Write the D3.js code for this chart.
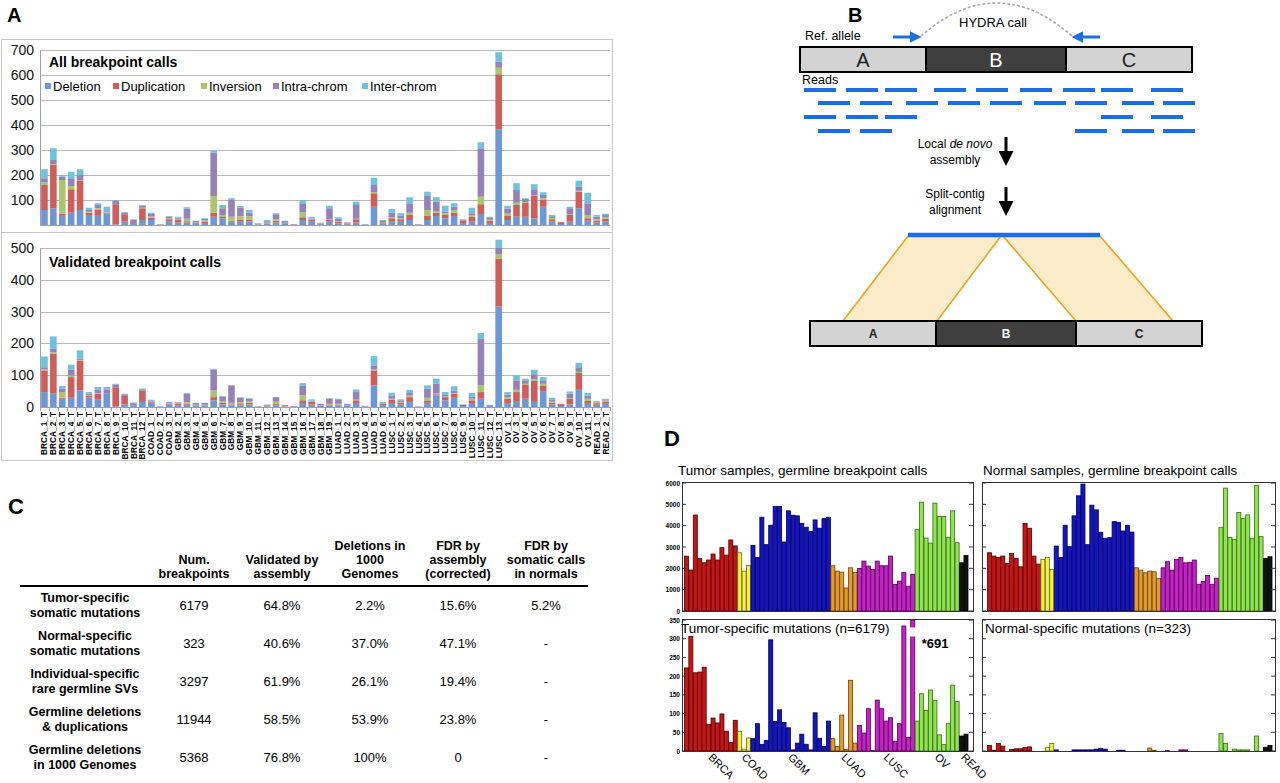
<!DOCTYPE html>
<html>
<head>
<meta charset="utf-8">
<script src="https://cdn.jsdelivr.net/npm/d3@7"></script>
<style>
  body { margin: 0; background: #fff; }
  svg { display: block; font-family: "Liberation Sans", Arial, Helvetica, sans-serif; }
</style>
</head>
<body>
<svg id="fig" width="1280" height="783"></svg>
<script>
// ---------- data ----------
const samples = ["BRCA_1_T","BRCA_2_T","BRCA_3_T","BRCA_4_T","BRCA_5_T","BRCA_6_T","BRCA_7_T","BRCA_8_T","BRCA_9_T","BRCA_10_T","BRCA_11_T","BRCA_12_T",
  "COAD_1_T","COAD_2_T","COAD_3_T",
  "GBM_2_T","GBM_3_T","GBM_4_T","GBM_5_T","GBM_6_T","GBM_7_T","GBM_8_T","GBM_9_T","GBM_10_T","GBM_11_T","GBM_12_T","GBM_13_T","GBM_14_T","GBM_15_T","GBM_16_T","GBM_17_T","GBM_18_T","GBM_19_T",
  "LUAD_1_T","LUAD_2_T","LUAD_3_T","LUAD_4_T","LUAD_5_T","LUAD_6_T",
  "LUSC_1_T","LUSC_2_T","LUSC_3_T","LUSC_4_T","LUSC_5_T","LUSC_6_T","LUSC_7_T","LUSC_8_T","LUSC_9_T","LUSC_10_T","LUSC_11_T","LUSC_12_T","LUSC_13_T",
  "OV_1_T","OV_3_T","OV_4_T","OV_5_T","OV_6_T","OV_7_T","OV_8_T","OV_9_T","OV_10_T","OV_11_T",
  "READ_1_T","READ_2_T"]

const series = ["Deletion", "Duplication", "Inversion", "Intra-chrom", "Inter-chrom"]
const seriesColors = ["#6f97d6", "#cf5e5a", "#aac56b", "#9682ba", "#6ec2dc"]

// A, all breakpoint calls
const allDeletion = [60,67,40,49,60,40,40,47,2,13,5,20, 20,1,15, 10,10,5,8,33,27,13,15,15,2,5,10,4,1,20,13,3,13, 7,3,11,1,73,7, 13,13,20,1,20,36,27,36,8,13,44,8,383, 20,33,33,27,73,15,4,13,67,17, 10,15]
const allDuplication = [100,173,5,94,118,9,20,2,81,30,3,47, 9,1,8, 10,5,3,6,16,5,4,5,5,1,2,8,3,1,11,7,2,7, 5,2,12,1,54,4, 14,10,20,1,16,13,13,13,10,20,39,10,220, 16,47,56,89,27,8,7,27,66,10, 8,10]
const allInversion = [10,3,135,13,2,4,7,2,0,0,0,2, 5,0,3, 5,10,2,4,67,8,16,15,15,1,2,5,2,0,19,3,1,2, 3,1,2,0,4,1, 4,3,9,0,24,7,7,11,0,7,30,3,26, 10,9,3,4,7,5,0,3,4,13, 5,5]
const allIntra = [17,17,13,31,20,7,13,4,15,7,13,9, 10,1,8, 5,40,6,6,173,27,67,35,15,2,6,20,7,2,37,2,3,45, 10,4,55,1,29,4, 19,12,35,1,56,37,7,13,3,7,194,7,24, 20,51,12,23,13,7,1,24,16,47, 10,10]
const allInter = [36,47,7,26,23,9,7,18,2,2,2,2, 5,0,2, 3,6,1,3,8,13,7,6,10,1,5,4,1,0,13,8,0,10, 6,1,13,1,29,4, 14,9,27,0,17,18,23,14,2,22,24,5,38, 11,27,3,20,11,5,1,6,24,42, 7,5]

// A, validated breakpoint calls
const valDeletion = [47,42,26,29,52,30,23,42,2,8,3,16, 10,1,8, 5,7,3,3,21,8,5,5,8,1,2,5,1,1,10,8,3,5, 5,3,10,1,68,6, 10,8,16,1,13,37,21,29,3,10,26,3,316, 10,19,26,16,50,8,3,8,54,10, 7,10]
const valDuplication = [68,125,3,65,94,5,19,2,60,27,2,36, 5,0,3, 6,3,2,2,10,5,3,4,5,0,1,4,1,0,11,8,2,3, 3,2,11,1,47,4, 13,6,15,1,8,3,10,13,4,11,21,2,150, 16,28,45,66,18,6,6,18,53,9, 5,7]
const valInversion = [3,5,18,5,2,2,2,0,0,0,0,0, 2,0,1, 2,5,2,2,21,5,5,6,6,1,1,8,1,0,16,2,1,2, 2,1,2,0,3,1, 3,2,5,0,8,2,2,2,0,5,21,0,15, 5,7,2,5,5,5,0,2,3,7, 2,3]
const valIntra = [7,11,10,18,5,5,10,10,9,5,7,4, 4,1,3, 2,27,6,6,66,15,55,14,7,1,3,14,3,2,31,2,4,16, 12,3,24,1,13,3, 10,5,8,0,29,31,5,8,1,7,146,1,19, 8,30,11,16,9,5,1,14,15,10, 3,4]
const valInter = [34,39,9,16,25,5,9,9,2,2,2,2, 2,0,1, 1,2,0,0,2,2,0,2,2,0,1,0,0,0,7,4,0,2, 4,1,8,1,29,2, 9,3,10,0,10,16,9,13,0,11,19,1,26, 8,15,5,14,12,5,0,7,14,8, 2,2]

const topTicks = [100, 200, 300, 400, 500, 600, 700]
const bottomTicks = [0, 100, 200, 300, 400, 500]

// B, schematic (positions in reference-genome units)
const segNames = ["A", "B", "C"]
const segEdges = [0, 126, 266, 392]
const readStarts = [
  [4, 46, 85, 134, 176, 220, 263, 301, 351],
  [18, 60, 106, 148, 190, 234, 275, 322, 363],
  [4, 46, 85, 301, 351],
  [18, 60, 275, 322, 363]]
const readLength = 32
const contigPieces = [{ c0: 0, c1: 93, g0: 33, g1: 127 }, { c0: 95, c1: 192, g0: 266, g1: 363 }]

// C, table
const colHeaders = [["Num.", "breakpoints"], ["Validated by", "assembly"], ["Deletions in", "1000", "Genomes"],
  ["FDR by", "assembly", "(corrected)"], ["FDR by", "somatic calls", "in normals"]]
const rowLabels = [["Tumor-specific", "somatic mutations"], ["Normal-specific", "somatic mutations"],
  ["Individual-specific", "rare germline SVs"], ["Germline deletions", "& duplications"], ["Germline deletions", "in 1000 Genomes"]]
const numBreakpoints = ["6179", "323", "3297", "11944", "5368"]
const validatedByAssembly = ["64.8%", "40.6%", "61.9%", "58.5%", "76.8%"]
const deletionsIn1000G = ["2.2%", "37.0%", "26.1%", "53.9%", "100%"]
const fdrAssembly = ["15.6%", "47.1%", "19.4%", "23.8%", "0"]
const fdrNormals = ["5.2%", "-", "-", "-", "-"]

// D
const cancerTypes = ["BRCA", "COAD", "GBM", "LUAD", "LUSC", "OV", "READ"]
const cancerColors = ["#c81414", "#f4f046", "#1414c4", "#e49b2e", "#c820c8", "#8ee64c", "#111111"]
const cancerStrokes = ["#4a0000", "#6a6818", "#00004e", "#6a4200", "#4e004e", "#3a6a1c", "#000000"]
const tumorGermline = [2570,1920,4500,2460,2260,2390,2670,2390,2970,2620,3330,3050, 2730,1870,2135,
  3080,2510,4395,3110,4020,4900,4900,3235,4695,4490,4460,4110,3925,3720,4270,3880,4330,4395,
  2120,1870,1820,1080,2025,1805, 1995,2340,2105,1945,2340,2120,2120,2575,1240,1400,1805,1160,1725,
  3830,5100,3420,3185,5055,4425,4425,3440,4695,3200, 2260,2605]
const normalGermline = [2730,2575,2510,2575,2230,2700,2465,2070,4110,3880,2575,2200, 2420,2510,1950,
  3045,2510,4020,3015,4460,5400,5950,3110,4960,4740,3690,3410,3440,4190,4160,3750,4020,3700,
  2025,1915,1790,1870,1840,1520, 2025,2310,1915,2420,2510,2260,2280,2390,1255,1380,1665,1255,1540,
  3925,5760,3450,3360,4615,4330,4505,3410,5890,3485, 2465,2545]
const tumorSpecific = [222,306,209,211,224,71,88,75,99,53,23,82, 52,5,35,
  33,73,18,28,297,79,110,76,62,3,21,45,18,3,102,34,12,80,
  33,12,96,4,189,21, 68,48,113,1,136,113,80,89,26,73,334,36,691,
  80,153,108,163,135,43,17,74,176,132, 40,45]
const normalSpecific = [15,2,20,13,0,4,6,6,9,11,0,0, 0,9,20,
  3,0,0,0,3,3,3,3,3,5,7,5,0,0,2,2,0,0,
  0,0,0,8,2,0, 0,1,0,0,3,3,0,0,0,0,0,0,0,
  47,20,0,5,3,3,3,0,40,0, 10,15]
const germlineTicks = [0, 1000, 2000, 3000, 4000, 5000, 6000]
const mutationTicks = [0, 50, 100, 150, 200, 250, 300, 350]

// ---------- drawing ----------
const svg = d3.select("#fig")

function letter(t, x, y, size) {
  svg.append("text").attr("x", x).attr("y", y).attr("font-size", size)
    .attr("font-weight", "bold").text(t)
}
letter("A", 7, 22, 20)
letter("B", 848, 22, 20)
letter("C", 8, 514, 22)
letter("D", 664, 446, 22)

// ===== Panel A =====
svg.append("rect").attr("x", 1.5).attr("y", 39.5).attr("width", 611).attr("height", 421)
  .attr("fill", "none").attr("stroke", "#c8c8c8")
svg.append("line").attr("x1", 1.5).attr("x2", 612.5).attr("y1", 232.5).attr("y2", 232.5).attr("stroke", "#c8c8c8")

const xA = d3.scaleBand().domain(samples).range([40, 610]).paddingInner(0.26).paddingOuter(0.13)

function rowsFrom(cols) {
  return samples.map((s, i) => {
    const r = { name: s }
    series.forEach((k, j) => r[k] = cols[j][i])
    return r
  })
}

function stackedPanel(cols, y, ticks, title, titleY) {
  const g = svg.append("g")
  const top = y.range()[1]

  g.append("g").selectAll("line").data(ticks.filter(t => t > 0)).join("line")
    .attr("x1", 40).attr("x2", 610)
    .attr("y1", d => Math.round(y(d)) + .5).attr("y2", d => Math.round(y(d)) + .5)
    .attr("stroke", "#b9b9b9")

  g.append("line").attr("x1", 40.5).attr("x2", 40.5).attr("y1", y(0)).attr("y2", top).attr("stroke", "#a0a0a0")
  g.append("line").attr("x1", 40).attr("x2", 610).attr("y1", y(0) + .5).attr("y2", y(0) + .5).attr("stroke", "#a0a0a0")

  g.append("g").selectAll("text").data(ticks).join("text")
    .attr("x", 34).attr("y", d => y(d) + 5)
    .attr("text-anchor", "end").attr("font-size", 14).attr("fill", "#111")
    .text(d => d)

  const stacked = d3.stack().keys(series)(rowsFrom(cols))
  g.append("g").selectAll("g").data(stacked).join("g")
    .attr("fill", (d, i) => seriesColors[i])
    .selectAll("rect").data(d => d).join("rect")
    .attr("x", d => xA(d.data.name)).attr("width", xA.bandwidth())
    .attr("y", d => y(d[1])).attr("height", d => Math.max(0, y(d[0]) - y(d[1])))

  g.append("text").attr("x", 49).attr("y", titleY).attr("font-size", 14).attr("font-weight", "bold")
    .text(title)
  return g
}

const yTop = d3.scaleLinear().domain([0, 700]).range([225, 50])
const yBot = d3.scaleLinear().domain([0, 500]).range([407, 248])

stackedPanel([allDeletion, allDuplication, allInversion, allIntra, allInter], yTop, topTicks, "All breakpoint calls", 67)
const gBot = stackedPanel([valDeletion, valDuplication, valInversion, valIntra, valInter], yBot, bottomTicks, "Validated breakpoint calls", 267)

// legend
const legX = [45, 113, 201, 273, 362]
const leg = svg.append("g").selectAll("g").data(series).join("g")
  .attr("transform", (d, i) => `translate(${legX[i]},86)`)
leg.append("rect").attr("x", 0).attr("y", -3).attr("width", 6).attr("height", 6).attr("fill", (d, i) => seriesColors[i])
leg.append("text").attr("x", 8).attr("y", 5).attr("font-size", 13).text(d => d)

// category ticks and labels
const stepA = xA.step()
const boundaries = samples.map(s => xA(s) - xA.paddingInner() * stepA / 2)
boundaries.push(boundaries[boundaries.length - 1] + stepA)
gBot.append("g").selectAll("line").data(boundaries).join("line")
  .attr("x1", d => Math.round(d) + .5).attr("x2", d => Math.round(d) + .5)
  .attr("y1", 407).attr("y2", 411).attr("stroke", "#a0a0a0")
gBot.append("g").selectAll("text").data(samples).join("text")
  .attr("transform", d => `translate(${xA(d) + xA.bandwidth() / 2 + 3},412) rotate(-90)`)
  .attr("text-anchor", "end").attr("font-size", 8.3).attr("font-weight", "bold")
  .text(d => d)

// ===== Panel B =====
const gB = svg.append("g")
const defs = svg.append("defs")
function marker(id, color, size) {
  defs.append("marker").attr("id", id).attr("viewBox", "0 0 10 10").attr("refX", 2).attr("refY", 5)
    .attr("markerUnits", "userSpaceOnUse").attr("markerWidth", size).attr("markerHeight", size)
    .attr("orient", "auto")
    .append("path").attr("d", "M0,0 L10,5 L0,10 Z").attr("fill", color)
}
marker("blueHead", "#1b6fe6", 12)
marker("blackHead", "#000", 15)

const gxTop = d3.scaleLinear().domain([0, 392]).range([800, 1192])
const gxBot = d3.scaleLinear().domain([0, 392]).range([810, 1202])
const segFill = ["#d3d3d3", "#3f3f3f", "#d3d3d3"]
const segText = ["#222", "#fff", "#222"]

function refBar(gx, y0, h, fs) {
  const g = gB.append("g")
  g.selectAll("rect").data(segNames).join("rect")
    .attr("x", (d, i) => gx(segEdges[i])).attr("width", (d, i) => gx(segEdges[i + 1]) - gx(segEdges[i]))
    .attr("y", y0).attr("height", h)
    .attr("fill", (d, i) => segFill[i]).attr("stroke", "#000").attr("stroke-width", 2)
  g.selectAll("text").data(segNames).join("text")
    .attr("x", (d, i) => (gx(segEdges[i]) + gx(segEdges[i + 1])) / 2)
    .attr("y", y0 + h / 2 + fs * 0.36)
    .attr("text-anchor", "middle").attr("font-size", fs)
    .attr("font-weight", fs < 15 ? "bold" : "normal")
    .attr("fill", (d, i) => segText[i]).text(d => d)
}

// dashed HYDRA arc
gB.append("path")
  .attr("d", `M${gxTop(121)},36 Q${gxTop(196.5)},-30 ${gxTop(272)},36`)
  .attr("fill", "none").attr("stroke", "#aaa").attr("stroke-width", 1.6).attr("stroke-dasharray", "3,2")
gB.append("line").attr("x1", gxTop(93)).attr("x2", gxTop(112)).attr("y1", 37).attr("y2", 37)
  .attr("stroke", "#1b6fe6").attr("stroke-width", 3).attr("marker-end", "url(#blueHead)")
gB.append("line").attr("x1", gxTop(300)).attr("x2", gxTop(281)).attr("y1", 37).attr("y2", 37)
  .attr("stroke", "#1b6fe6").attr("stroke-width", 3).attr("marker-end", "url(#blueHead)")
gB.append("text").attr("x", 993).attr("y", 27).attr("text-anchor", "middle").attr("font-size", 13).text("HYDRA call")
gB.append("text").attr("x", 805).attr("y", 40).attr("font-size", 12.5).text("Ref. allele")
refBar(gxTop, 47, 25, 20)

gB.append("text").attr("x", 802).attr("y", 84).attr("font-size", 12.5).text("Reads")
const readRowY = [90, 103, 117, 131]
readStarts.forEach((row, r) => {
  gB.append("g").selectAll("rect").data(row).join("rect")
    .attr("x", d => gxTop(d)).attr("width", gxTop(readLength) - gxTop(0))
    .attr("y", readRowY[r] - 2).attr("height", 4).attr("fill", "#1b6fe6")
})

const t1 = gB.append("text").attr("x", 955).attr("y", 148).attr("text-anchor", "middle").attr("font-size", 12)
t1.append("tspan").text("Local ")
t1.append("tspan").attr("font-style", "italic").text("de novo")
gB.append("text").attr("x", 955).attr("y", 164).attr("text-anchor", "middle").attr("font-size", 12).text("assembly")
gB.append("text").attr("x", 955).attr("y", 198).attr("text-anchor", "middle").attr("font-size", 12).text("Split-contig")
gB.append("text").attr("x", 955).attr("y", 214).attr("text-anchor", "middle").attr("font-size", 12).text("alignment")
gB.append("g").selectAll("line").data([137, 187]).join("line")
  .attr("x1", 1006).attr("x2", 1006).attr("y1", d => d).attr("y2", d => d + 17)
  .attr("stroke", "#000").attr("stroke-width", 3).attr("marker-end", "url(#blackHead)")

const cx = d3.scaleLinear().domain([0, 192]).range([908, 1100])
gB.append("g").selectAll("polygon").data(contigPieces).join("polygon")
  .attr("points", d => [[cx(d.c0), 236], [cx(d.c1), 236], [gxBot(d.g1), 321], [gxBot(d.g0), 321]].join(" "))
  .attr("fill", "#fdecca").attr("stroke", "#f0a21c").attr("stroke-width", 1.6)
gB.append("line").attr("x1", cx(0)).attr("x2", cx(192)).attr("y1", 235).attr("y2", 235)
  .attr("stroke", "#1b6fe6").attr("stroke-width", 4.5)
refBar(gxBot, 321, 25, 12)

// ===== Panel C =====
const gC = svg.append("g")
const colX = d3.scaleBand().domain(d3.range(colHeaders.length)).range([150, 590])
const rowY = d3.scaleBand().domain(d3.range(rowLabels.length)).range([586, 776])
colHeaders.forEach((lines, c) => {
  lines.forEach((ln, k) => {
    gC.append("text").attr("x", colX(c) + colX.bandwidth() / 2)
      .attr("y", 578 - (lines.length - 1 - k) * 14)
      .attr("text-anchor", "middle").attr("font-size", 12.5).attr("font-weight", "bold").text(ln)
  })
})
gC.append("line").attr("x1", 20).attr("x2", 588).attr("y1", 586).attr("y2", 586).attr("stroke", "#000").attr("stroke-width", 2)
rowLabels.forEach((lines, r) => {
  const cy = rowY(r) + rowY.bandwidth() / 2
  lines.forEach((ln, k) => {
    gC.append("text").attr("x", 85).attr("y", cy - 7 + k * 15 + 4)
      .attr("text-anchor", "middle").attr("font-size", 12.5).attr("font-weight", "bold").text(ln)
  })
})
const tableCols = [numBreakpoints, validatedByAssembly, deletionsIn1000G, fdrAssembly, fdrNormals]
tableCols.forEach((vals, c) => {
  gC.append("g").selectAll("text").data(vals).join("text")
    .attr("x", colX(c) + colX.bandwidth() / 2)
    .attr("y", (d, r) => rowY(r) + rowY.bandwidth() / 2 + 5)
    .attr("text-anchor", "middle").attr("font-size", 13).text(d => d)
})

// ===== Panel D =====
const typeIndex = samples.map(s => cancerTypes.indexOf(s.split("_")[0]))

function dPanel(values, box, barRange, yDomainMax, ticks, showLabels) {
  const g = svg.append("g")
  const x = d3.scaleBand().domain(d3.range(values.length)).range(barRange)
  const y = d3.scaleLinear().domain([0, yDomainMax]).range([box.bottom, box.top + 1])
  g.append("g").selectAll("rect").data(values).join("rect")
    .attr("x", (d, i) => x(i) + .4).attr("width", x.bandwidth() - .4)
    .attr("y", d => y(Math.min(d, yDomainMax))).attr("height", d => box.bottom - y(Math.min(d, yDomainMax)))
    .attr("fill", (d, i) => cancerColors[typeIndex[i]])
    .attr("stroke", (d, i) => cancerStrokes[typeIndex[i]]).attr("stroke-width", 0.8)
  g.append("rect").attr("x", box.left + .5).attr("y", box.top + .5)
    .attr("width", box.right - box.left).attr("height", box.bottom - box.top)
    .attr("fill", "none").attr("stroke", "#333").attr("stroke-width", 1)
  g.append("g").selectAll("line").data(ticks).join("line")
    .attr("x1", box.left).attr("x2", box.left + 4).attr("y1", d => y(d)).attr("y2", d => y(d)).attr("stroke", "#333")
  g.append("g").selectAll("line").data(ticks).join("line")
    .attr("x1", box.right - 4).attr("x2", box.right).attr("y1", d => y(d)).attr("y2", d => y(d)).attr("stroke", "#333")
  if (showLabels) {
    g.append("g").selectAll("text").data(ticks).join("text")
      .attr("x", box.left - 2).attr("y", d => y(d) + 2.5).attr("text-anchor", "end")
      .attr("font-size", 6.5).attr("font-weight", "bold").text(d => d)
  }
  return { g, x, y }
}

const boxTL = { left: 682, right: 973, top: 482, bottom: 611 }
const boxTR = { left: 982, right: 1275, top: 482, bottom: 611 }
const boxBL = { left: 682, right: 973, top: 619, bottom: 751 }
const boxBR = { left: 982, right: 1275, top: 619, bottom: 751 }

dPanel(tumorGermline, boxTL, [684, 968], 6000, germlineTicks, true)
dPanel(normalGermline, boxTR, [987, 1272], 6000, germlineTicks, false)
const bl = dPanel(tumorSpecific, boxBL, [684, 968], 350, mutationTicks, true)
dPanel(normalSpecific, boxBR, [987, 1272], 350, mutationTicks, false)

// broken bar for the clipped value
tumorSpecific.forEach((v, i) => {
  if (v > 350) {
    bl.g.append("rect").attr("x", bl.x(i) - .5).attr("width", bl.x.bandwidth() + 1.5)
      .attr("y", bl.y(330)).attr("height", bl.y(306) - bl.y(330)).attr("fill", "#fff")
    bl.g.append("text").attr("x", bl.x(i) + bl.x.bandwidth() + 7).attr("y", 648)
      .attr("font-size", 13).attr("font-weight", "bold").text("*" + v)
  }
})

svg.append("text").attr("x", 678).attr("y", 475).attr("font-size", 13.5).text("Tumor samples, germline breakpoint calls")
svg.append("text").attr("x", 983).attr("y", 475).attr("font-size", 13.5).text("Normal samples, germline breakpoint calls")
svg.append("text").attr("x", 681).attr("y", 633).attr("font-size", 13.5).text("Tumor-specific mutations (n=6179)")
svg.append("text").attr("x", 985).attr("y", 633).attr("font-size", 13.5).text("Normal-specific mutations (n=323)")

// cancer type labels under the bottom-left panel
const groupCenters = cancerTypes.map((t, k) => {
  const idx = d3.range(samples.length).filter(i => typeIndex[i] === k)
  return (bl.x(idx[0]) + bl.x(idx[idx.length - 1]) + bl.x.bandwidth()) / 2
})
svg.append("g").selectAll("text").data(cancerTypes).join("text")
  .attr("transform", (d, k) => `translate(${groupCenters[k] - 3},758) rotate(45)`)
  .attr("font-size", 11).text(d => d)
</script>
</body>
</html>
